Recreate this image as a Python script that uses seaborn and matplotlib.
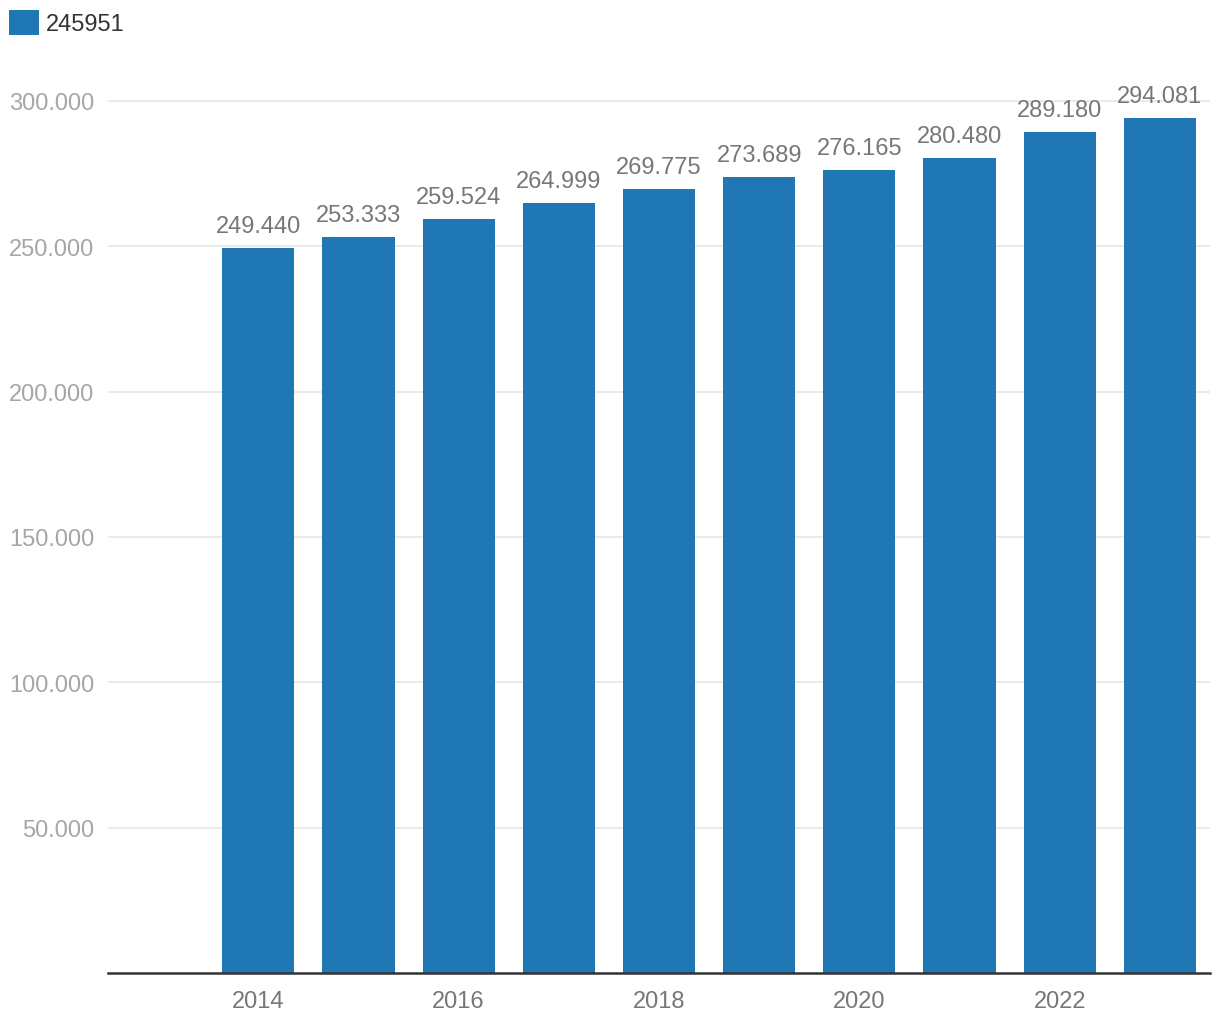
import matplotlib
matplotlib.use("Agg")
import matplotlib.pyplot as plt
import matplotlib.patches as mpatches
import seaborn as sns
import pandas as pd

years = [2014, 2015, 2016, 2017, 2018, 2019, 2020, 2021, 2022, 2023]
values = [249440, 253333, 259524, 264999, 269775, 273689, 276165, 280480, 289180, 294081]
series_name = "245951"
y_ticks = [50000, 100000, 150000, 200000, 250000, 300000]
x_ticks = [2014, 2016, 2018, 2020, 2022]

def fmt(v):
    return f"{v:,}".replace(",", ".")

sns.set_theme(style="white")
plt.rcParams['font.family'] = ['Liberation Sans', 'DejaVu Sans']

df = pd.DataFrame({"year": years, "value": values})
bar_color = "#1f77b4"

fig = plt.figure(figsize=(12.2, 10.2), dpi=100)
bottom_px, top_px = 974, 56
ax = fig.add_axes([108/1220, 1 - bottom_px/1020, (1210-108)/1220, (bottom_px-top_px)/1020])

sns.barplot(data=df, x="year", y="value", native_scale=True, width=0.72,
            color=bar_color, saturation=1, linewidth=0, ax=ax, zorder=3)

ax.set_xlim(2012.5, 2023.5)
ymax = 300000 * (bottom_px - top_px) / (bottom_px - 102)
ax.set_ylim(0, ymax)

ax.set_yticks(y_ticks)
ax.set_yticklabels([fmt(v) for v in y_ticks])
ax.set_xticks(x_ticks)
ax.set_xticklabels([str(x) for x in x_ticks])

ax.grid(axis="y", color="#e6e6e6", linewidth=1.2, zorder=0)
ax.grid(axis="x", visible=False)
for s in ["top", "right", "left"]:
    ax.spines[s].set_visible(False)
ax.spines["bottom"].set_color("#333333")
ax.spines["bottom"].set_linewidth(1.8)
ax.spines["bottom"].set_zorder(4)

ax.tick_params(axis="y", length=0, pad=10, labelsize=17, labelcolor="#a6a6a6")
ax.tick_params(axis="x", length=0, pad=12, labelsize=17, labelcolor="#777777")
ax.set_xlabel("")
ax.set_ylabel("")

for cont in ax.containers:
    ax.bar_label(cont, labels=[fmt(v) for v in values], padding=8,
                 fontsize=17, color="#777777")

handle = mpatches.Patch(color=bar_color, linewidth=0)
fig.legend([handle], [series_name], loc="upper left",
           bbox_to_anchor=(9/1220, 1 - 11/1020),
           frameon=False, fontsize=17, handlelength=1.25, handleheight=1.25,
           handletextpad=0.3, borderaxespad=0, borderpad=0, labelcolor="#333333")

fig.savefig("out.png", dpi=100)
